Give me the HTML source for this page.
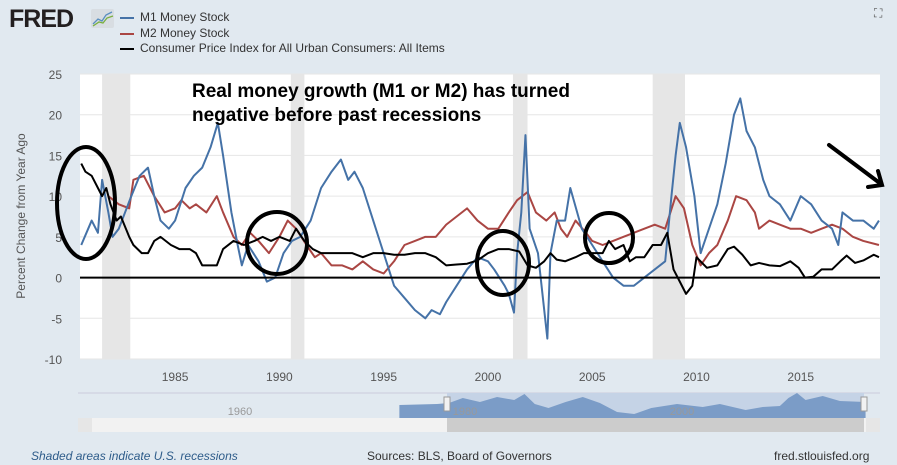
<!DOCTYPE html>
<html><head><meta charset="utf-8"><style>
body{margin:0;width:897px;height:465px;background:#e1e9f0;font-family:"Liberation Sans",sans-serif;overflow:hidden;position:relative}
.t{position:absolute;white-space:nowrap}
</style></head><body>
<div class="t" style="left:9px;top:5px;font-size:25px;font-weight:bold;color:#231f20;letter-spacing:-1px">FRED</div>
<svg style="position:absolute;left:91px;top:9px" width="23" height="19"><rect width="23" height="19" rx="2" fill="#d8dde2"/><polyline points="2,15 7,10 11,12 15,6 21,3" fill="none" stroke="#5a8fc0" stroke-width="1.3"/><polyline points="2,17 8,13 12,14 16,9 22,7" fill="none" stroke="#7ab040" stroke-width="1.3"/></svg>
<div>
<div class="t" style="left:120px;top:10px;font-size:12px;color:#333"><span style="display:inline-block;width:14px;height:2px;background:#4572a7;vertical-align:middle;margin-right:6px"></span>M1 Money Stock</div>
<div class="t" style="left:120px;top:26px;font-size:12px;color:#333"><span style="display:inline-block;width:14px;height:2px;background:#aa4643;vertical-align:middle;margin-right:6px"></span>M2 Money Stock</div>
<div class="t" style="left:120px;top:41px;font-size:12px;color:#333"><span style="display:inline-block;width:14px;height:2px;background:#000;vertical-align:middle;margin-right:6px"></span>Consumer Price Index for All Urban Consumers: All Items</div>
</div>
<div class="t" style="left:874px;top:6px;font-size:12px;color:#555">⛶</div>
<svg id="chart" width="897" height="465" style="position:absolute;left:0;top:0"></svg>
<div class="t" style="left:31px;top:449px;font-size:12px;font-style:italic;color:#2e5c8a">Shaded areas indicate U.S. recessions</div>
<div class="t" style="left:367px;top:449px;font-size:12px;color:#333">Sources: BLS, Board of Governors</div>
<div class="t" style="left:774px;top:449px;font-size:12px;color:#333">fred.stlouisfed.org</div>
<script>
const recStart=[1981.5,1990.55,2001.2,2007.9];
const recEnd=[1982.85,1991.2,2001.9,2009.45];
const yTicks=[25,20,15,10,5,0,-5,-10];
const xTicks=[1985,1990,1995,2000,2005,2010,2015];
const m1Dates=[1980.5,1981,1981.3,1981.5,1981.8,1982,1982.3,1982.6,1982.9,1983.3,1983.7,1984,1984.3,1984.7,1985,1985.5,1985.9,1986.3,1986.7,1987.05,1987.3,1987.7,1988,1988.2,1988.5,1989,1989.4,1989.8,1990.2,1990.6,1991,1991.5,1992,1992.5,1992.95,1993.3,1993.6,1994,1994.5,1995,1995.5,1996,1996.5,1997,1997.3,1997.7,1998,1998.5,1999,1999.5,2000,2000.3,2000.8,2001,2001.25,2001.4,2001.6,2001.8,2002,2002.4,2002.85,2003,2003.3,2003.7,2003.95,2004.5,2005,2005.5,2006,2006.5,2007,2007.5,2008,2008.5,2008.8,2009,2009.2,2009.5,2009.9,2010.2,2010.6,2011,2011.4,2011.8,2012.1,2012.4,2012.8,2013.2,2013.5,2014,2014.5,2015,2015.5,2016,2016.5,2016.8,2017,2017.5,2018,2018.5,2018.75];
const m1Values=[4,7,5.5,12,8,5,6,8,10,12.5,13.5,10,7,6,7,11,12.5,13.5,16,19,15,8,4,1.5,4,2,-0.5,0,3,4.5,5,7,11,13,14.5,12,13,11,7,3,-1,-2.5,-4,-5,-4,-4.5,-3,-1,1,2.5,2,1,-1,-2,-4.3,3,8,17.5,6,3,-7.5,3,7,7,11,6,4,2,0,-1,-1,0,1,2,10,15,19,16,10,3,6,9,14,20,22,18,16,12,10,9,7,10,9,7,6,4,8,7,7,6,7];
const m2Dates=[1981.8,1982.3,1982.8,1983,1983.5,1984,1984.5,1985,1985.3,1985.7,1986,1986.5,1987,1987.3,1987.8,1988.2,1988.6,1989,1989.5,1990,1990.4,1990.8,1991.3,1991.7,1992,1992.5,1993,1993.5,1994,1994.5,1995,1995.5,1996,1996.5,1997,1997.5,1998,1998.5,1999,1999.5,2000,2000.5,2001,2001.4,2001.9,2002.3,2002.8,2003.2,2003.5,2003.8,2004.2,2004.7,2005,2005.5,2006,2006.5,2007,2007.5,2008,2008.5,2009,2009.4,2009.8,2010.2,2010.6,2011,2011.5,2011.9,2012.4,2012.8,2013,2013.5,2014,2014.5,2015,2015.5,2016,2016.5,2017,2017.5,2018,2018.75];
const m2Values=[10,9,8.5,12,12.5,10,8,8.5,9.5,8.5,9,8,10,8,5,4,5.5,4.5,3,5,7,6,4,2.5,3,1.5,1.5,1,2,1,0.5,2,4,4.5,5,5,6.5,7.5,8.5,7,6,6,8,9.5,10.5,8,7,8,6,5,7,5.5,4.5,4,4.5,5,5.5,6,6.5,6,10,8.5,4,1.5,3,4,7,10,9.5,8,6,7,6.5,6,6,5.5,6,6.5,6,5,4.5,4];
const cpiDates=[1980.5,1980.7,1981,1981.3,1981.5,1981.7,1981.9,1982.2,1982.4,1982.8,1983,1983.4,1983.7,1984,1984.3,1984.8,1985.2,1985.7,1986,1986.3,1986.7,1987,1987.3,1987.8,1988.3,1988.8,1989.2,1989.6,1990,1990.5,1990.8,1991.2,1991.6,1992,1992.5,1993,1993.5,1994,1994.5,1995,1995.5,1996,1996.5,1997,1997.5,1998,1998.5,1999,1999.5,2000,2000.5,2001,2001.5,2001.9,2002.3,2002.7,2003,2003.3,2003.7,2004.2,2004.6,2005,2005.5,2005.8,2006.1,2006.5,2006.8,2007.1,2007.5,2007.9,2008.3,2008.6,2008.9,2009.2,2009.5,2009.8,2010,2010.5,2011,2011.5,2011.8,2012.2,2012.6,2013,2013.5,2014,2014.5,2014.9,2015.2,2015.6,2016,2016.5,2016.9,2017.2,2017.6,2018,2018.5,2018.75];
const cpiValues=[14,13,12.5,11,10,11,9,7,7.5,5,4,3,3,4.5,5,4,3.5,3.5,3,1.5,1.5,1.5,3.5,4.5,4,4.5,5,4.5,5,4.5,6,4.5,3.5,3,3,3,3,2.5,3,3,2.8,2.8,3,3,2.5,1.5,1.6,1.7,2.1,3,3.5,3.5,3.2,1.5,1.2,2,3,2.2,2,2.5,3,3,3,4.5,3.5,4,2,2.5,2.5,4,4,5.5,1,-0.5,-2,-1,2.5,1.2,1.5,3.5,3.8,2.8,1.5,1.8,1.5,1.4,2,1.2,0,0.1,1,1,2,2.7,1.8,2.1,2.8,2.5];

const L=80,R=880,T=74,B=359,Y0=1980.44,Y1=2018.8,V0=-10,V1=25;
const sx=y=>L+(y-Y0)/(Y1-Y0)*(R-L);
const sy=v=>B-(v-V0)/(V1-V0)*(B-T);
const NS='http://www.w3.org/2000/svg';
const svg=document.getElementById('chart');
function mk(tag,attrs,parent){const e=document.createElementNS(NS,tag);for(const k in attrs)e.setAttribute(k,attrs[k]);(parent||svg).appendChild(e);return e;}
const bg=mk('rect',{x:L,y:T,width:R-L,height:B-T,fill:'#fff'});


recStart.forEach((s,i)=>{
 const r=mk('rect',{x:sx(s),y:T,width:sx(recEnd[i])-sx(s),height:B-T,fill:'#e6e6e6'});
 
 
});
yTicks.forEach(v=>{
 const g=mk('line',{x1:L,x2:R,y1:sy(v),y2:sy(v),stroke:'#e6e6e6','stroke-width':1});
 
 
 const t=mk('text',{x:62,y:sy(v)+5,'text-anchor':'end','font-size':12,fill:'#555','font-family':'Liberation Sans'});
 t.textContent=v;
 
 
});
xTicks.forEach(y=>{
 const t=mk('text',{x:sx(y),y:381,'text-anchor':'middle','font-size':12,fill:'#555','font-family':'Liberation Sans'});
 t.textContent=y;
 
 
});
const yt=mk('text',{x:0,y:0,transform:'translate(25,216) rotate(-90)','text-anchor':'middle','font-size':12,fill:'#555','font-family':'Liberation Sans'});
yt.textContent='Percent Change from Year Ago';


function series(d,v,c,w,name){
 const p=mk('polyline',{points:d.map((x,i)=>sx(x)+','+sy(v[i])).join(' '),fill:'none',stroke:c,'stroke-width':w,'stroke-linejoin':'round'});
 
 
}
series(m2Dates,m2Values,'#aa4643',2,'m2-line');
series(m1Dates,m1Values,'#4572a7',2,'m1-line');
series(cpiDates,cpiValues,'#000',2,'cpi-line');
const z=mk('line',{x1:L,x2:R,y1:sy(0),y2:sy(0),stroke:'#000','stroke-width':2});


const at=mk('text',{x:192,y:97,'font-size':19,'font-weight':'bold',fill:'#000','font-family':'Liberation Sans'});
at.innerHTML='<tspan x="192">Real money growth (M1 or M2) has turned</tspan><tspan x="192" dy="24">negative before past recessions</tspan>';


[[86,203,29,56],[277,243,30,31],[503,263,26,32],[609,238,24,25]].forEach(e=>{
 const el=mk('ellipse',{cx:e[0],cy:e[1],rx:e[2],ry:e[3],fill:'none',stroke:'#000','stroke-width':4});
 
 
});
const ar=mk('g',{stroke:'#000','stroke-width':4,fill:'none','stroke-linecap':'round'});


mk('line',{x1:829,y1:145,x2:881,y2:184},ar);
mk('polyline',{points:'868,187 882,185 878,171'},ar);
// navigator
const nv=mk('g',{});


mk('line',{x1:78,x2:880,y1:393,y2:393,stroke:'#ccd'},nv);
mk('rect',{x:447,y:393,width:417,height:25,fill:'#c5d3e6'},nv);
mk('path',{transform:'matrix(1.714,0,0,1,0,0)',d:'M233,418 L233,405 L255,404 L262,403 L270,398 L280,402 L290,397 L300,400 L306,394 L312,404 L320,408 L330,402 L340,397 L350,403 L360,412 L370,414 L380,408 L395,404 L410,407 L420,404 L435,410 L445,407 L455,406 L460,398 L465,393 L470,400 L480,396 L490,401 L505,402 L505,418 Z',fill:'#7b9cc7'},nv);
const n1=mk('text',{x:240,y:415,'font-size':11,fill:'#999','font-family':'Liberation Sans','text-anchor':'middle'},nv);n1.textContent='1960';
const n3=mk('text',{x:465,y:415,'font-size':11,fill:'#999','font-family':'Liberation Sans','text-anchor':'middle'},nv);n3.textContent='1980';
const n2=mk('text',{x:682,y:415,'font-size':11,fill:'#999','font-family':'Liberation Sans','text-anchor':'middle'},nv);n2.textContent='2000';
mk('rect',{x:444,y:397,width:6,height:14,fill:'#f2f2f2',stroke:'#999'},nv);
mk('rect',{x:861,y:397,width:6,height:14,fill:'#f2f2f2',stroke:'#999'},nv);
const sb=mk('g',{});


mk('rect',{x:78,y:418,width:802,height:14,fill:'#f2f2f2'},sb);
mk('rect',{x:447,y:418,width:417,height:14,fill:'#ccc'},sb);
mk('rect',{x:78,y:418,width:14,height:14,fill:'#e6e6e6'},sb);
mk('rect',{x:866,y:418,width:14,height:14,fill:'#e6e6e6'},sb);
</script>
</body></html>
